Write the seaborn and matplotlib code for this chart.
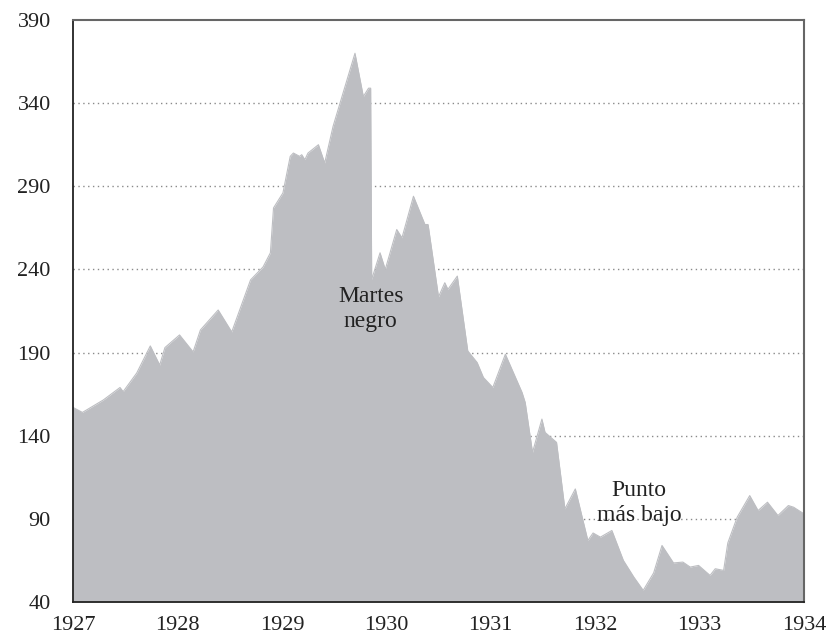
import matplotlib
matplotlib.use("Agg")
import matplotlib.pyplot as plt
import pandas as pd
import seaborn as sns

# values (fractional year, index level)
years = [1927.00, 1927.09, 1927.29, 1927.45, 1927.48, 1927.61, 1927.74, 1927.83,
         1927.88, 1928.02, 1928.15, 1928.22, 1928.39, 1928.52, 1928.70, 1928.82,
         1928.89, 1928.92, 1928.97, 1929.01, 1929.08, 1929.11, 1929.17, 1929.19,
         1929.22, 1929.25, 1929.35, 1929.41, 1929.49, 1929.70, 1929.78, 1929.83,
         1929.85, 1929.86, 1929.94, 1929.99, 1930.10, 1930.15, 1930.26, 1930.37,
         1930.40, 1930.50, 1930.56, 1930.59, 1930.68, 1930.78, 1930.87, 1930.93,
         1931.02, 1931.14, 1931.30, 1931.33, 1931.40, 1931.49, 1931.52, 1931.63,
         1931.71, 1931.81, 1931.93, 1931.98, 1932.05, 1932.16, 1932.27, 1932.37,
         1932.46, 1932.56, 1932.64, 1932.75, 1932.84, 1932.91, 1932.99, 1933.10,
         1933.15, 1933.23, 1933.27, 1933.36, 1933.48, 1933.56, 1933.65, 1933.75,
         1933.85, 1933.90, 1934.00]
index = [157, 154, 161.5, 169, 166.5, 177.7, 194, 182.5,
         193, 200.6, 190.4, 203.6, 215.6, 202.4, 233.7, 241.5,
         250, 277, 282, 286, 308, 310, 308, 309,
         306, 310, 315, 304, 326, 370, 344, 349,
         349, 234, 250, 240, 264, 259, 284, 267,
         267, 223.5, 232, 228, 236, 191, 184, 175,
         169, 189, 166, 160, 130, 150, 142, 136,
         96, 108, 77, 81.5, 79, 83, 65, 55,
         47, 57.5, 74, 63.5, 64, 61, 62, 56,
         60, 59, 75.5, 91, 104, 95, 100, 92,
         98, 97, 93]

x_ticks = [1927, 1928, 1929, 1930, 1931, 1932, 1933, 1934]
y_ticks = [40, 90, 140, 190, 240, 290, 340, 390]

df = pd.DataFrame({"year": years, "index": index})

sns.set_theme(style="white")
plt.rcParams["font.family"] = ["Liberation Serif", "DejaVu Serif"]

fill_color = "#bdbec2"

fig, ax = plt.subplots(figsize=(8.26, 6.39), dpi=100)
fig.subplots_adjust(left=0.0884, right=0.9734, top=0.9687, bottom=0.0579)

ax.fill_between(df["year"], 40, df["index"], color=fill_color, linewidth=0, zorder=2)
sns.lineplot(data=df, x="year", y="index", color=fill_color, linewidth=0.8, ax=ax, zorder=2)

for y in y_ticks[1:-1]:
    ax.axhline(y, color="#8a8a8a", linestyle=(0, (1, 2.5)), linewidth=1.0, zorder=1)

ax.set_xlim(1927, 1934)
ax.set_ylim(40, 390)
ax.set_xticks(x_ticks)
ax.set_yticks(y_ticks)
ax.set_xlabel("")
ax.set_ylabel("")
ax.tick_params(axis="both", direction="out", length=6, width=1.2, color="#222222",
               labelsize=16, labelcolor="#222222")
ax.tick_params(axis="y", pad=10)
ax.tick_params(axis="x", pad=4)

for side in ["left", "bottom"]:
    ax.spines[side].set_color("#222222")
    ax.spines[side].set_linewidth(1.3)
for side in ["top", "right"]:
    ax.spines[side].set_color("#666666")
    ax.spines[side].set_linewidth(1.5)
    ax.spines[side].set_visible(True)

ax.text(1929.85, 216, "Martes\nnegro", ha="center", va="center", fontsize=17,
        color="#222222", linespacing=1.25, zorder=3)
ax.text(1932.42, 99.5, "Punto\nmás bajo", ha="center", va="center", fontsize=17,
        color="#222222", linespacing=1.25, zorder=3)

fig.savefig("out.png", dpi=100)
